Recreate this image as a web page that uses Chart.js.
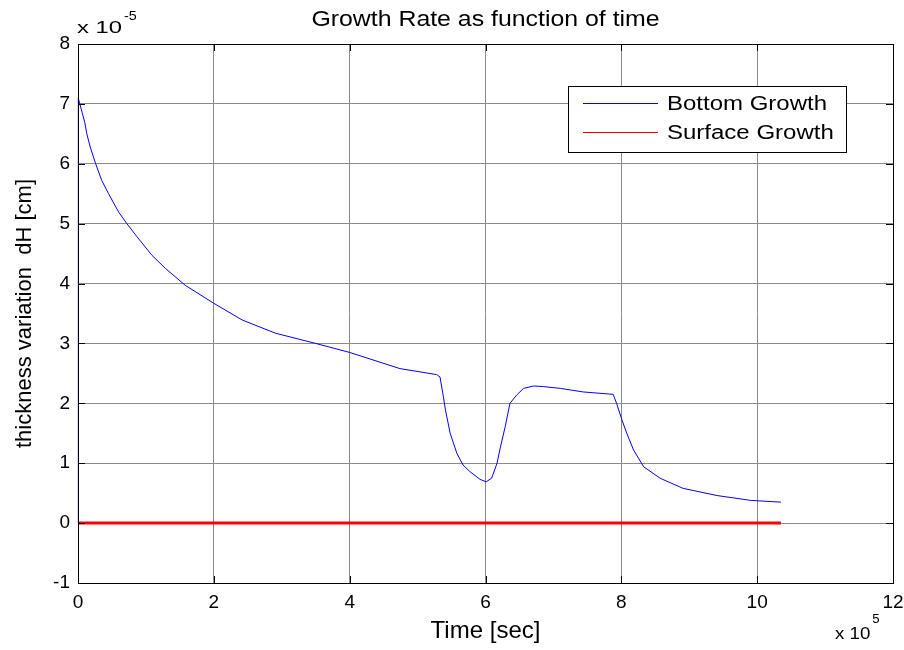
<!DOCTYPE html>
<html>
<head>
<meta charset="utf-8">
<script src="https://cdn.jsdelivr.net/npm/chart.js@4.4.1/dist/chart.umd.min.js"></script>
<style>
  html, body { margin: 0; padding: 0; background: #fff; }
  #chart { display: block; }
</style>
</head>
<body>
<canvas id="chart" width="904" height="650"></canvas>
<script>
'use strict';
// values are in the axis units: time x 10^5 sec, dH x 10^-5 cm
const bottomTime = [0, 0.005, 0.02, 0.06, 0.10, 0.13, 0.18, 0.26, 0.35, 0.45, 0.60, 0.72, 0.87, 1.09,
  1.29, 1.58, 2.0, 2.42, 2.91, 3.50, 4.0, 4.74,
  5.28, 5.33, 5.38, 5.41, 5.48, 5.58, 5.67, 5.77, 5.92, 6.01, 6.09, 6.17, 6.22, 6.29, 6.36, 6.46,
  6.56, 6.71, 6.85, 7.10, 7.44, 7.88, 7.93, 8.01, 8.08, 8.18, 8.33, 8.57, 8.91, 9.41, 9.90, 10.35];
const bottomGrowth = [0, 7.09, 7.03, 6.86, 6.69, 6.5, 6.28, 6.0, 5.72, 5.5, 5.19, 5.0, 4.78, 4.47,
  4.25, 3.97, 3.67, 3.39, 3.17, 3.0, 2.85, 2.58,
  2.48, 2.44, 2.11, 1.89, 1.50, 1.16, 0.97, 0.86, 0.73, 0.69, 0.75, 1.0, 1.27, 1.61, 2.0, 2.14,
  2.25, 2.29, 2.28, 2.25, 2.19, 2.15, 2.0, 1.72, 1.50, 1.22, 0.94, 0.75, 0.58, 0.46, 0.38, 0.35];
const surfaceTime = [0, 10.35];
const surfaceGrowth = [0, 0];
const xTicks = [0, 2, 4, 6, 8, 10, 12];
const yTicks = [-1, 0, 1, 2, 3, 4, 5, 6, 7, 8];

const fontFamily = "'Liberation Sans', Arial, sans-serif";
const canvasElem = document.getElementById('chart');

// text drawn a bit wider than normal, like the exported figure
function wideText(ctx, text, x, y, size, sx, align) {
  ctx.save();
  ctx.font = size + 'px ' + fontFamily;
  ctx.textAlign = align || 'left';
  ctx.translate(x, y);
  ctx.scale(sx, 1);
  ctx.fillText(text, 0, 0);
  const w = ctx.measureText(text).width * sx;
  ctx.restore();
  return w;
}

// MATLAB style box: full frame, inward ticks, exponent labels and legend
const matlabFrame = {
  id: 'matlabFrame',
  afterDraw(chart) {
    const ctx = chart.ctx;
    const a = chart.chartArea;
    const xs = chart.scales.x, ys = chart.scales.y;
    ctx.save();
    ctx.strokeStyle = '#000';
    ctx.lineWidth = 1;
    ctx.strokeRect(a.left + 0.5, a.top + 0.5, a.right - a.left, a.bottom - a.top);
    const tl = 7;
    ctx.beginPath();
    xTicks.forEach(v => {
      const px = Math.round(xs.getPixelForValue(v)) + 0.5;
      ctx.moveTo(px, a.bottom); ctx.lineTo(px, a.bottom - tl);
      ctx.moveTo(px, a.top); ctx.lineTo(px, a.top + tl);
    });
    yTicks.forEach(v => {
      const py = Math.round(ys.getPixelForValue(v)) + 0.5;
      ctx.moveTo(a.left, py); ctx.lineTo(a.left + tl, py);
      ctx.moveTo(a.right, py); ctx.lineTo(a.right - tl, py);
    });
    ctx.stroke();

    // exponents
    ctx.fillStyle = '#000';
    ctx.textBaseline = 'alphabetic';
    const w1 = wideText(ctx, 'x 10', 77, 33, 17, 1.4);
    wideText(ctx, '-5', 77 + w1 + 2, 20, 13, 1.1);
    const w2 = wideText(ctx, 'x 10', 835, 639, 17, 1.1);
    wideText(ctx, '5', 835 + w2 + 2, 623, 12, 1.1);

    // legend
    const lx = 568, ly = 86, lw = 278, lh = 66;
    ctx.fillStyle = '#fff';
    ctx.fillRect(lx, ly, lw, lh);
    ctx.strokeStyle = '#000';
    ctx.strokeRect(lx + 0.5, ly + 0.5, lw, lh);
    ctx.textBaseline = 'middle';
    chart.data.datasets.forEach((ds, i) => {
      const y = 103.5 + i * 29;
      ctx.strokeStyle = ds.borderColor;
      ctx.lineWidth = 1;
      ctx.beginPath();
      ctx.moveTo(583, y); ctx.lineTo(658, y);
      ctx.stroke();
      ctx.fillStyle = '#000';
      wideText(ctx, ds.label, 667, y + 1, 20, 1.2);
    });

    // title
    ctx.fillStyle = '#000';
    wideText(ctx, 'Growth Rate as function of time', (a.left + a.right) / 2, 20, 22, 1.13, 'center');
    ctx.restore();
  }
};

const data = {
  datasets: [{
    label: 'Bottom Growth',
    data: bottomTime.map((t, i) => ({ x: t, y: bottomGrowth[i] })),
    borderColor: '#0000ff',
    borderWidth: 1,
    pointRadius: 0,
    tension: 0,
    clip: 4,
  }, {
    label: 'Surface Growth',
    data: surfaceTime.map((t, i) => ({ x: t, y: surfaceGrowth[i] })),
    borderColor: '#ff0000',
    borderWidth: 3,
    pointRadius: 0,
    tension: 0,
    clip: 4,
  }]
};

const chartConfig = {
  type: 'line',
  data: data,
  options: {
    responsive: false,
    animation: false,
    layout: { padding: { top: 44, right: 11, left: 0, bottom: 0 } },
    plugins: {
      legend: { display: false },
      title: { display: false },
      tooltip: { enabled: false },
    },
    scales: {
      x: {
        type: 'linear',
        min: 0,
        max: 12,
        afterFit: s => { s.height = 67; s.paddingLeft = 0; s.paddingRight = 0; },
        afterBuildTicks: s => { s.ticks = xTicks.map(v => ({ value: v })); },
        grid: { color: '#8a8a8a', drawTicks: false },
        border: { color: '#000' },
        ticks: { color: '#000', padding: 8, maxRotation: 0, font: { family: fontFamily, size: 19 } },
        title: {
          display: true,
          text: 'Time [sec]',
          color: '#000',
          font: { family: fontFamily, size: 24 },
          padding: { top: 0, bottom: 4 },
        },
      },
      y: {
        type: 'linear',
        min: -1,
        max: 8,
        afterFit: s => { s.width = 78; s.paddingTop = 0; s.paddingBottom = 0; },
        afterBuildTicks: s => { s.ticks = yTicks.map(v => ({ value: v })); },
        grid: { color: '#8a8a8a', drawTicks: false },
        border: { color: '#000' },
        ticks: { color: '#000', padding: 8, font: { family: fontFamily, size: 19 } },
        title: {
          display: true,
          text: 'thickness variation  dH [cm]',
          color: '#000',
          font: { family: fontFamily, size: 22 },
          padding: { top: 12, bottom: 0 },
        },
      },
    },
  },
  plugins: [matlabFrame],
};

const myChart = new Chart(canvasElem, chartConfig);
</script>
</body>
</html>
